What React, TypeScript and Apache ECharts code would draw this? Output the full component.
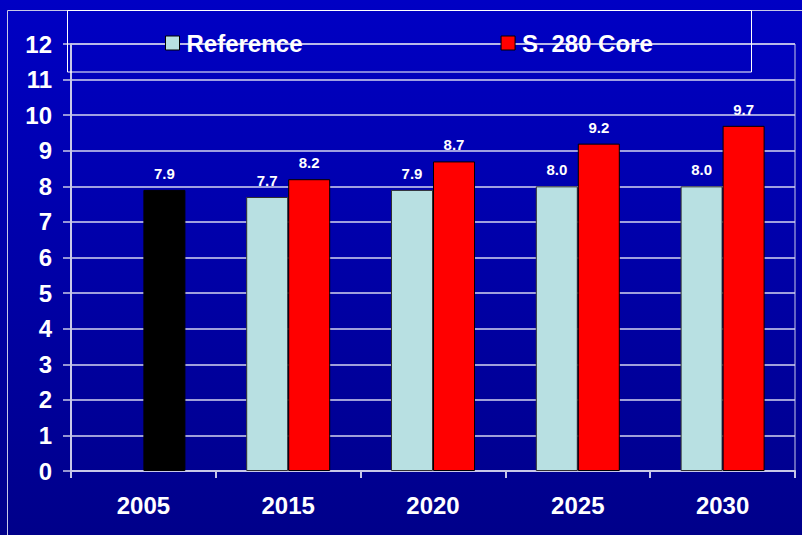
import React, { useEffect, useRef } from "react";
import * as echarts from "echarts";

const categories = ["2005", "2015", "2020", "2025", "2030"];
const referenceValues: (number | null)[] = [null, 7.7, 7.9, 8.0, 8.0];
const coreValues: number[] = [7.9, 8.2, 8.7, 9.2, 9.7];
const yTicks = [0, 12, 1];

const App: React.FC = () => {
  const ref = useRef<HTMLDivElement>(null);
  useEffect(() => {
    if (!ref.current) return;
    const chart = echarts.init(ref.current, undefined, { renderer: "svg" });
    const font = "'Liberation Sans', Arial, sans-serif";
    const gridColor = "#C8C8E8";
    const labelStyle = {
      show: true,
      position: "top" as const,
      distance: 9,
      color: "#FFFFFF",
      fontWeight: "bold" as const,
      fontSize: 15,
      fontFamily: font,
      formatter: (p: any) => (p.value == null ? "" : Number(p.value).toFixed(1)),
    };
    chart.setOption({
      animation: false,
      backgroundColor: {
        type: "linear",
        x: 0, y: 0, x2: 0, y2: 1,
        colorStops: [
          { offset: 0, color: "#0000C4" },
          { offset: 1, color: "#00008A" },
        ],
      },
      textStyle: { fontFamily: font },
      grid: {
        left: 71,
        right: 7,
        top: 44,
        bottom: 64,
        show: true,
        borderColor: gridColor,
        borderWidth: 1,
        backgroundColor: "transparent",
      },
      legend: {
        left: 160,
        top: 26,
        itemWidth: 14,
        itemHeight: 14,
        itemGap: 198,
        icon: "rect",
        textStyle: {
          color: "#FFFFFF",
          fontWeight: "bold",
          fontSize: 24,
          fontFamily: font,
          padding: [0, 0, 0, 2],
        },
        data: [
          { name: "Reference", itemStyle: { color: "#B8E0E2", borderColor: "#000", borderWidth: 1 } },
          { name: "S. 280 Core", itemStyle: { color: "#FF0000", borderColor: "#000", borderWidth: 1 } },
        ],
      },
      graphic: [
        {
          type: "rect",
          silent: true,
          shape: { x: 7.5, y: 10.5, width: 820, height: 560 },
          style: { fill: "none", stroke: "#C8C8E8", lineWidth: 1 },
          z: 0,
        },
        {
          type: "rect",
          silent: true,
          shape: { x: 67.5, y: 10.5, width: 684, height: 61.5 },
          style: { fill: "none", stroke: "#FFFFFF", lineWidth: 1 },
          z: 10,
        },
      ],
      xAxis: {
        type: "category",
        data: categories,
        axisLine: { show: true, lineStyle: { color: gridColor, width: 2 } },
        axisTick: { show: true, length: 7, lineStyle: { color: gridColor, width: 2 } },
        axisLabel: {
          color: "#FFFFFF",
          fontWeight: "bold",
          fontSize: 24,
          fontFamily: font,
          margin: 22,
        },
      },
      yAxis: {
        type: "value",
        min: yTicks[0],
        max: yTicks[1],
        interval: yTicks[2],
        axisLine: { show: true, lineStyle: { color: gridColor, width: 2 } },
        axisTick: { show: true, length: 8, lineStyle: { color: gridColor, width: 1.5 } },
        splitLine: { show: true, lineStyle: { color: "#D4D4F0", width: 1.5 } },
        axisLabel: {
          color: "#FFFFFF",
          fontWeight: "bold",
          fontSize: 24,
          fontFamily: font,
          margin: 19,
        },
      },
      series: [
        {
          name: "Reference",
          type: "bar",
          data: referenceValues,
          barWidth: 42,
          barGap: "0%",
          itemStyle: { color: "#B8E0E2", borderColor: "#303030", borderWidth: 1 },
          label: labelStyle,
        },
        {
          name: "S. 280 Core",
          type: "bar",
          data: coreValues.map((v, i) =>
            i === 0 ? { value: v, itemStyle: { color: "#000000" } } : v
          ),
          barWidth: 42,
          barGap: "0%",
          itemStyle: { color: "#FF0000", borderColor: "#000000", borderWidth: 1 },
          label: labelStyle,
        },
      ],
    });
    return () => chart.dispose();
  }, []);
  return (
    <div
      ref={ref}
      style={{ position: "absolute", left: 0, top: 0, width: 802, height: 535 }}
    />
  );
};

export default App;
